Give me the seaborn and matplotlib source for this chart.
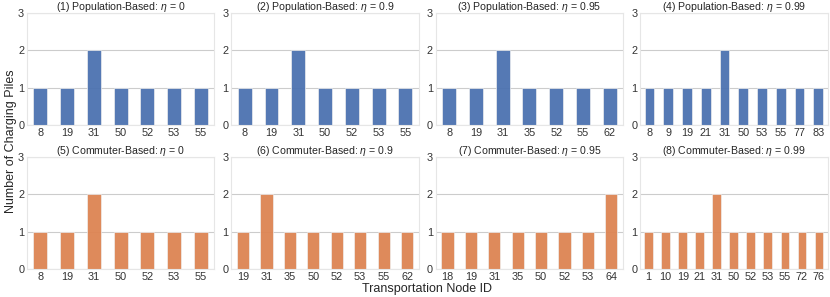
import pandas as pd
import matplotlib.pyplot as plt
import seaborn as sns

# Данные: ID узлов и количество зарядных станций
pop_titles = ['(1) Population-Based: $\\eta$ = 0', '(2) Population-Based: $\\eta$ = 0.9',
              '(3) Population-Based: $\\eta$ = 0.95', '(4) Population-Based: $\\eta$ = 0.99']
com_titles = ['(5) Commuter-Based: $\\eta$ = 0', '(6) Commuter-Based: $\\eta$ = 0.9',
              '(7) Commuter-Based: $\\eta$ = 0.95', '(8) Commuter-Based: $\\eta$ = 0.99']

pop_nodes_1 = [8, 19, 31, 50, 52, 53, 55]
pop_piles_1 = [1, 1, 2, 1, 1, 1, 1]
pop_nodes_2 = [8, 19, 31, 50, 52, 53, 55]
pop_piles_2 = [1, 1, 2, 1, 1, 1, 1]
pop_nodes_3 = [8, 19, 31, 35, 52, 55, 62]
pop_piles_3 = [1, 1, 2, 1, 1, 1, 1]
pop_nodes_4 = [8, 9, 19, 21, 31, 50, 53, 55, 77, 83]
pop_piles_4 = [1, 1, 1, 1, 2, 1, 1, 1, 1, 1]

com_nodes_5 = [8, 19, 31, 50, 52, 53, 55]
com_piles_5 = [1, 1, 2, 1, 1, 1, 1]
com_nodes_6 = [19, 31, 35, 50, 52, 53, 55, 62]
com_piles_6 = [1, 2, 1, 1, 1, 1, 1, 1]
com_nodes_7 = [18, 19, 31, 35, 50, 52, 53, 64]
com_piles_7 = [1, 1, 1, 1, 1, 1, 1, 2]
com_nodes_8 = [1, 10, 19, 21, 31, 50, 52, 53, 55, 72, 76]
com_piles_8 = [1, 1, 1, 1, 2, 1, 1, 1, 1, 1, 1]

sns.set_style("whitegrid")
plt.rcParams['font.family'] = ['Liberation Sans', 'DejaVu Sans']
plt.rcParams['mathtext.fontset'] = 'custom'
plt.rcParams['mathtext.it'] = 'Liberation Sans:italic'
plt.rcParams['mathtext.rm'] = 'Liberation Sans'
palette = sns.color_palette("deep")

fig, axes = plt.subplots(2, 4, figsize=(8.3, 2.97), dpi=100)
fig.subplots_adjust(left=0.0325, right=0.997, top=0.956, bottom=0.094,
                    wspace=0.091, hspace=0.286)

rows = [
    (pop_titles, [(pop_nodes_1, pop_piles_1), (pop_nodes_2, pop_piles_2),
                  (pop_nodes_3, pop_piles_3), (pop_nodes_4, pop_piles_4)], palette[0]),
    (com_titles, [(com_nodes_5, com_piles_5), (com_nodes_6, com_piles_6),
                  (com_nodes_7, com_piles_7), (com_nodes_8, com_piles_8)], palette[1]),
]

for r, (titles, series, color) in enumerate(rows):
    for c, (nodes, piles) in enumerate(series):
        ax = axes[r, c]
        df = pd.DataFrame({'node': [str(n) for n in nodes], 'piles': piles})
        sns.barplot(data=df, x='node', y='piles', ax=ax, color=color,
                    width=0.52, saturation=1, alpha=0.95,
                    edgecolor='#f0f0f0', linewidth=0.5)
        ax.set_ylim(0, 3)
        ax.set_yticks([0, 1, 2, 3])
        ax.set_title(titles[c], fontsize=7.6, pad=2)
        ax.set_xlabel('')
        ax.set_ylabel('')
        ax.tick_params(axis='both', labelsize=7.8, pad=2, length=0,
                       labelcolor='#333333')
        for s in ax.spines.values():
            s.set_color('#e6e6e6')

# Общие подписи осей, центрированные по области графиков
x_mid = (axes[1, 0].get_position().x0 + axes[1, 3].get_position().x1) / 2
y_mid = (axes[1, 0].get_position().y0 + axes[0, 0].get_position().y1) / 2
fig.text(x_mid, 0.008, 'Transportation Node ID', fontsize=9, ha='center', va='bottom')
fig.text(0.006, y_mid, 'Number of Charging Piles', fontsize=9, rotation=90,
         ha='left', va='center')

plt.savefig('out.png', dpi=100)
